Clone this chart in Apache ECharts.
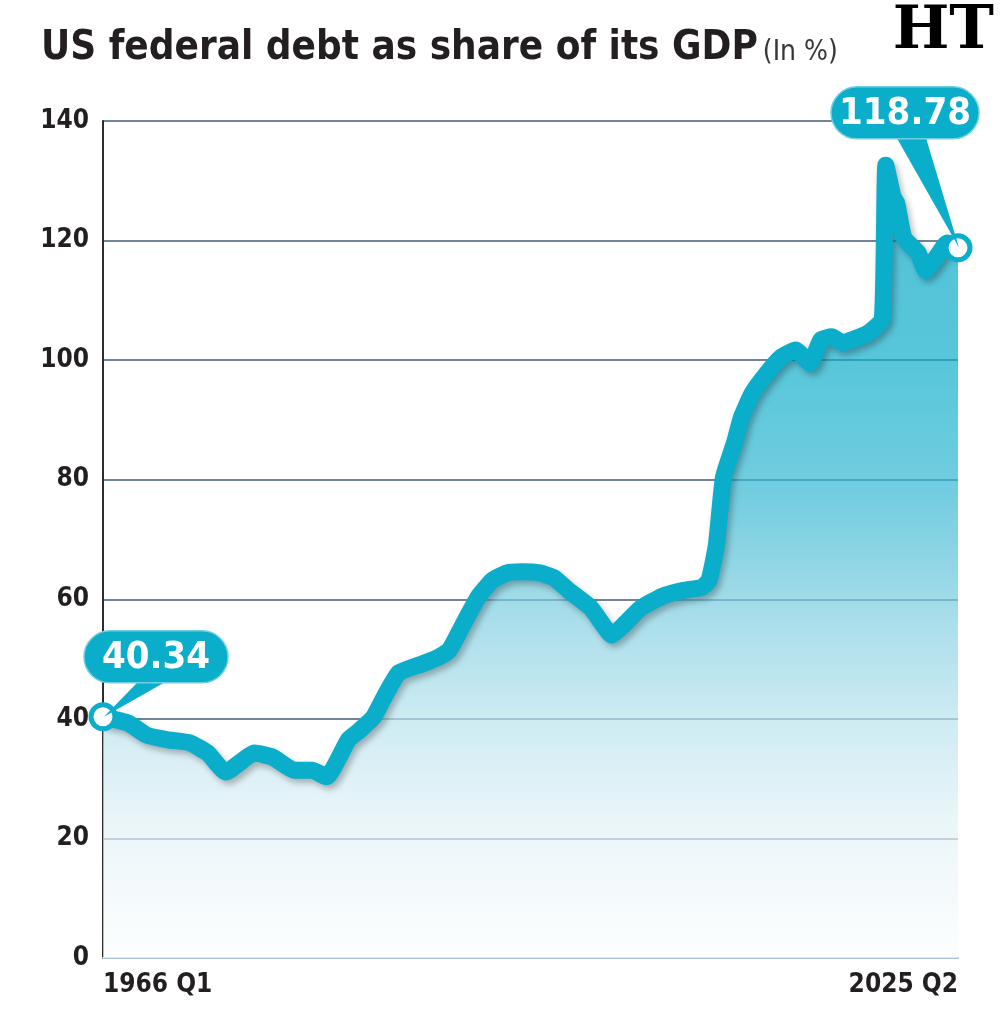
<!DOCTYPE html>
<html>
<head>
<meta charset="utf-8">
<script src="https://cdn.jsdelivr.net/npm/echarts@6/dist/echarts.min.js"></script>
<style>
  html, body { margin: 0; padding: 0; background: #fff; }
  #chart { width: 1000px; height: 1028px; }
</style>
</head>
<body>
<div id="chart"></div>
<script>
// quarters (not every quarter, just the turning points)
var periods = [
  '1966 Q1', '1967 Q4', '1969 Q1', '1970 Q3', '1972 Q1', '1973 Q2', '1974 Q3',
  '1976 Q3', '1977 Q4', '1979 Q2', '1980 Q3', '1981 Q3', '1983 Q1', '1983 Q4',
  '1984 Q4', '1985 Q3', '1986 Q3', '1988 Q2', '1989 Q2', '1990 Q1', '1991 Q1',
  '1992 Q1', '1993 Q1', '1994 Q1', '1995 Q1', '1996 Q2', '1997 Q2', '1998 Q2',
  '1999 Q4', '2000 Q4', '2001 Q2', '2002 Q1', '2003 Q2', '2004 Q4', '2006 Q2',
  '2007 Q3', '2008 Q1', '2008 Q3', '2009 Q1', '2009 Q4', '2010 Q2', '2011 Q1',
  '2012 Q1', '2013 Q1', '2014 Q1', '2015 Q1', '2015 Q4', '2016 Q3', '2017 Q2',
  '2018 Q1', '2019 Q1', '2020 Q1', '2020 Q2', '2020 Q4', '2021 Q1', '2021 Q3',
  '2022 Q3', '2023 Q1', '2023 Q4', '2024 Q3', '2025 Q2'
];
var debt = [
  40.34, 39.3, 37.3, 36.5, 36.0, 34.3, 31.1,
  34.3, 33.6, 31.4, 31.4, 30.3, 36.5, 38.0,
  40.3, 43.7, 47.7, 49.3, 50.3, 51.5, 56.0,
  60.4, 63.2, 64.4, 64.6, 64.4, 63.6, 61.5,
  58.7, 55.4, 54.0, 55.5, 58.5, 60.5, 61.5,
  62.0, 63.2, 69.0, 80.4, 86.1, 90.5, 94.5,
  97.8, 100.5, 101.7, 99.5, 103.4, 103.9, 102.9,
  103.5, 104.5, 106.8, 132.6, 127.3, 126.3, 120.5,
  117.9, 115.0, 117.2, 119.6, 118.78
];
var yTicks = [0, 20, 40, 60, 80, 100, 120, 140];

var firstYear = 1966;
function qIndex(p) {
  var parts = p.split(' Q');
  return (parseInt(parts[0]) - firstYear) * 4 + parseInt(parts[1]) - 1;
}
function qLabel(i) {
  return (firstYear + Math.floor(i / 4)) + ' Q' + (i % 4 + 1);
}

var points = periods.map(function (p, i) { return [qIndex(p), debt[i]]; });
var lastIdx = points.length - 1;
var xMax = points[lastIdx][0];

var TEAL = '#0aaecb';
var FONT = '"Liberation Sans Narrow", "DejaVu Sans Condensed", sans-serif';

var chart = echarts.init(document.getElementById('chart'));

chart.setOption({
  animation: false,
  title: {
    left: 36,
    top: 24,
    text: '{a|US federal debt as share of its GDP} {b|(In %)}',
    textStyle: {
      rich: {
        a: { fontFamily: FONT, fontWeight: 'bold', fontSize: 40, color: '#231f20' },
        b: { fontFamily: FONT, fontWeight: 'normal', fontSize: 28, color: '#3a3638', padding: [8, 0, 0, 0] }
      }
    }
  },
  grid: { left: 103, right: 42, top: 121, bottom: 70 },
  xAxis: {
    type: 'value',
    min: 0,
    max: xMax,
    interval: xMax,
    axisLine: { lineStyle: { color: '#a9c2d1', width: 2 } },
    axisTick: { show: false },
    splitLine: { show: false },
    axisLabel: {
      formatter: function (v) { return qLabel(v); },
      alignMinLabel: 'left',
      alignMaxLabel: 'right',
      fontFamily: FONT,
      fontWeight: 'bold',
      fontSize: 26,
      color: '#231f20',
      margin: 14
    }
  },
  yAxis: [{
    type: 'value',
    min: yTicks[0],
    max: yTicks[yTicks.length - 1],
    interval: 20,
    axisLine: { show: true, onZero: false, lineStyle: { color: '#231f20', width: 1.5 } },
    axisTick: { show: false },
    splitLine: { lineStyle: { color: '#71869a', width: 2 } },
    axisLabel: {
      fontFamily: FONT,
      fontWeight: 'bold',
      fontSize: 26,
      color: '#231f20',
      margin: 14
    }
  }, {
    type: 'value',
    position: 'right',
    min: yTicks[0],
    max: yTicks[yTicks.length - 1],
    interval: 20,
    axisLine: { show: true, lineStyle: { color: '#231f20', width: 1.5 } },
    axisTick: { show: false },
    axisLabel: { show: false },
    splitLine: { show: false }
  }],
  series: [{
    type: 'line',
    data: points,
    showSymbol: false,
    smooth: 0.15,
    lineStyle: {
      color: TEAL,
      width: 17,
      join: 'round',
      cap: 'round',
      shadowColor: 'rgba(0,0,0,0.28)',
      shadowBlur: 6,
      shadowOffsetX: 3,
      shadowOffsetY: 4
    },
    areaStyle: {
      color: new echarts.graphic.LinearGradient(0, 0, 0, 1, [
        { offset: 0, color: '#05a7c6' },
        { offset: 0.25, color: '#0fadca' },
        { offset: 0.42, color: '#38b7d2' },
        { offset: 0.56, color: '#7dcde0' },
        { offset: 0.7, color: '#b9e2ed' },
        { offset: 0.83, color: '#e1f1f6' },
        { offset: 1, color: '#fbfdfd' }
      ])
    },
    z: 3
  }, {
    type: 'scatter',
    data: [points[0], points[lastIdx]],
    symbol: 'circle',
    symbolSize: 24,
    itemStyle: { color: '#fff', borderColor: TEAL, borderWidth: 5, opacity: 1 },
    z: 5
  }]
});

// callouts with the first and last value
function callout(pt, dx, dy, w, h, tailA, tailB) {
  var p = chart.convertToPixel({ seriesIndex: 0 }, pt);
  var cx = p[0] + dx, cy = p[1] + dy;
  var bottom = cy + h / 2;
  return [{
    type: 'polygon',
    z: 100,
    shape: { points: [[cx + tailA, bottom - 4], [cx + tailB, bottom - 4], [p[0] + 1, p[1]]] },
    style: { fill: TEAL }
  }, {
    type: 'rect',
    z: 101,
    shape: { x: cx - w / 2, y: cy - h / 2, width: w, height: h, r: h / 2 },
    style: { fill: TEAL, stroke: '#6fd0e2', lineWidth: 1.5 }
  }, {
    type: 'text',
    z: 102,
    x: cx,
    y: cy + 1,
    style: {
      text: String(pt[1]),
      fill: '#fff',
      font: 'bold 38px ' + FONT,
      align: 'center',
      verticalAlign: 'middle'
    }
  }];
}

chart.setOption({
  graphic: callout(points[0], 53, -60, 144, 52, -15, 15)
    .concat(callout(points[lastIdx], -53, -135, 148, 52, -10, 20))
    .concat([{
      type: 'text',
      right: 6,
      top: 2,
      z: 100,
      style: {
        text: 'HT',
        fill: '#000',
        font: 'bold 60px "DejaVu Serif", serif'
      }
    }])
});
</script>
</body>
</html>
